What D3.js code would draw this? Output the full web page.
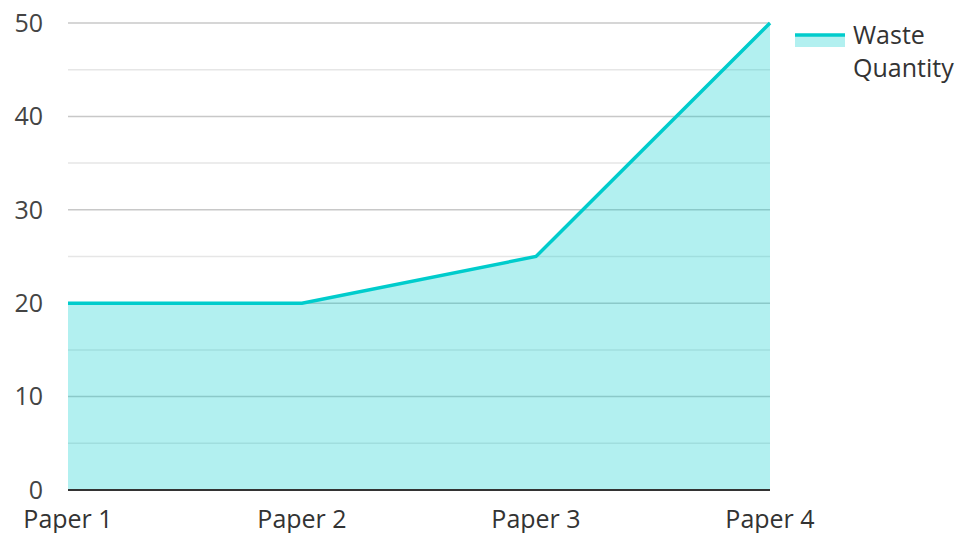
<!DOCTYPE html>
<html>
<head>
<meta charset="utf-8">
<script src="https://cdn.jsdelivr.net/npm/d3@7"></script>
<style>
  body { margin: 0; background: #fff; }
  text { font-family: "Open Sans", "Noto Sans", sans-serif; }
</style>
</head>
<body>
<script>
(function(){

    //chart data
    var categories = ["Paper 1", "Paper 2", "Paper 3", "Paper 4"];
    var wasteQuantity = [20, 20, 25, 50];
    var yTicks = [0, 10, 20, 30, 40, 50];
    var seriesName = ["Waste", "Quantity"];

    var width = 957,
        height = 533,
        left = 68,
        right = 770,
        top = 23,
        bottom = 490;

    var svg = d3.select("body")
        .append("svg")
        .attr("width", width)
        .attr("height", height);

    var x = d3.scalePoint()
        .domain(categories)
        .range([left, right]);

    var y = d3.scaleLinear()
        .domain([0, 50])
        .range([bottom, top]);

    //minor gridlines every 5
    svg.selectAll(".minor")
        .data(d3.range(5, 50, 10))
        .enter()
        .append("line")
        .attr("x1", left)
        .attr("x2", right)
        .attr("y1", function(d){ return y(d); })
        .attr("y2", function(d){ return y(d); })
        .attr("stroke", "#e6e6e6")
        .attr("stroke-width", 1.5);

    //major gridlines
    svg.selectAll(".major")
        .data(yTicks.slice(1))
        .enter()
        .append("line")
        .attr("x1", left)
        .attr("x2", right)
        .attr("y1", function(d){ return y(d); })
        .attr("y2", function(d){ return y(d); })
        .attr("stroke", "#c8c8c8")
        .attr("stroke-width", 1.5);

    var data = categories.map(function(c, i){ return { cat: c, val: wasteQuantity[i] }; });

    var area = d3.area()
        .x(function(d){ return x(d.cat); })
        .y0(y(0))
        .y1(function(d){ return y(d.val); });

    var line = d3.line()
        .x(function(d){ return x(d.cat); })
        .y(function(d){ return y(d.val); });

    svg.append("path")
        .datum(data)
        .attr("d", area)
        .attr("fill", "#00cccc")
        .attr("fill-opacity", 0.3);

    svg.append("path")
        .datum(data)
        .attr("d", line)
        .attr("fill", "none")
        .attr("stroke", "#00cccc")
        .attr("stroke-width", 3.5);

    //baseline
    svg.append("line")
        .attr("x1", left)
        .attr("x2", right)
        .attr("y1", y(0))
        .attr("y2", y(0))
        .attr("stroke", "#333")
        .attr("stroke-width", 2);

    //y labels
    svg.selectAll(".ylab")
        .data(yTicks)
        .enter()
        .append("text")
        .attr("x", 43)
        .attr("y", function(d){ return y(d); })
        .attr("dy", "0.35em")
        .attr("text-anchor", "end")
        .attr("font-size", 25)
        .attr("fill", "#444")
        .text(function(d){ return d; });

    //x labels
    svg.selectAll(".xlab")
        .data(categories)
        .enter()
        .append("text")
        .attr("x", function(d){ return x(d); })
        .attr("y", 528)
        .attr("text-anchor", "middle")
        .attr("font-size", 25)
        .attr("fill", "#333")
        .text(function(d){ return d; });

    //legend
    var legend = svg.append("g").attr("transform", "translate(795,35)");
    legend.append("rect")
        .attr("x", 0)
        .attr("y", 0)
        .attr("width", 50)
        .attr("height", 12)
        .attr("fill", "#00cccc")
        .attr("fill-opacity", 0.3);
    legend.append("line")
        .attr("x1", 0)
        .attr("x2", 50)
        .attr("y1", 0)
        .attr("y2", 0)
        .attr("stroke", "#00cccc")
        .attr("stroke-width", 3.5);
    legend.selectAll("text")
        .data(seriesName)
        .enter()
        .append("text")
        .attr("x", 58)
        .attr("y", function(d, i){ return i * 33; })
        .attr("dy", "0.35em")
        .attr("font-size", 25)
        .attr("fill", "#333")
        .text(function(d){ return d; });

})();
</script>
</body>
</html>
